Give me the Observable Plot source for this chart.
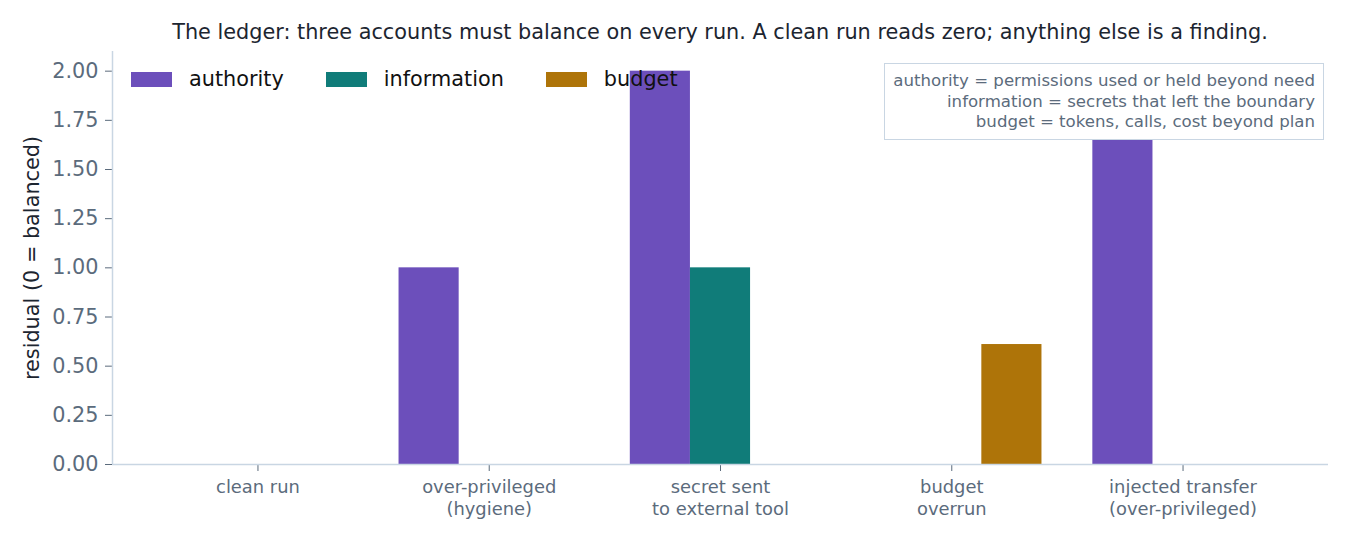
<!DOCTYPE html>
<html>
<head>
<meta charset="utf-8">
<script src="https://cdn.jsdelivr.net/npm/d3@7"></script>
<script src="https://cdn.jsdelivr.net/npm/@observablehq/plot@0.6"></script>
<style>
  html, body { margin: 0; padding: 0; background: white; }
  #wrap { position: relative; width: 1350px; height: 540px; font-family: "DejaVu Sans", sans-serif; }
  #title { height: 40px; box-sizing: border-box; padding: 20px 22px 0 112px; text-align: center;
           font-size: 20.8px; line-height: 24px; color: #1c2530; white-space: nowrap; }
  #legend { position: absolute; left: 131px; top: 68.5px; height: 21px; display: flex; align-items: center;
            font-size: 20.8px; color: #111; white-space: nowrap; }
  #legend .item { display: flex; align-items: center; margin-right: 42px; }
  #legend .sw { width: 41px; height: 15px; margin-right: 17px; }
  #note { position: absolute; right: 26px; top: 63px; background: white; border: 1.5px solid #c9d6e3;
          padding: 7px 8px 6px 8px; text-align: right; font-size: 16.6px; line-height: 20.5px; color: #5b6b7c;
          white-space: nowrap; }
</style>
</head>
<body>
<div id="wrap">
  <div id="title"></div>
  <div id="chart"></div>
  <div id="legend"></div>
  <div id="note"></div>
</div>
<script>
const titleText = "The ledger: three accounts must balance on every run. A clean run reads zero; anything else is a finding.";
const categories = ["clean run", "over-privileged\n(hygiene)", "secret sent\nto external tool", "budget\noverrun", "injected transfer\n(over-privileged)"];
const seriesNames = ["authority", "information", "budget"];
const seriesColors = ["#6c4fbb", "#107c79", "#ae7409"];
const authority = [0, 1, 2, 0, 2];
const information = [0, 0, 1, 0, 0];
const budget = [0, 0, 0, 0.61, 0];
const yTicks = [0, 0.25, 0.5, 0.75, 1.0, 1.25, 1.5, 1.75, 2.0];
const noteLines = [
  "authority = permissions used or held beyond need",
  "information = secrets that left the boundary",
  "budget = tokens, calls, cost beyond plan"
];
const yLabel = "residual (0 = balanced)";

const barWidth = 0.26;
const seriesValues = [authority, information, budget];
const rows = [];
seriesNames.forEach((s, k) => {
  seriesValues[k].forEach((v, i) => {
    rows.push({series: s, i, offset: (k - 1) * barWidth, value: v});
  });
});
const lo = -barWidth * 1.5, hi = categories.length - 1 + barWidth * 1.5;
const pad = (hi - lo) * 0.05;
const xDomain = [lo - pad, hi + pad];

const slate = "#5b6b7c";
const spine = "#c9d6e3";

const chart = Plot.plot({
  width: 1350,
  height: 500,
  marginLeft: 112,
  marginRight: 22,
  marginTop: 11,
  marginBottom: 76,
  style: {fontFamily: "DejaVu Sans, sans-serif", background: "white"},
  x: {domain: xDomain, axis: null},
  y: {domain: [0, 2.1], axis: null},
  color: {domain: seriesNames, range: seriesColors},
  marks: [
    Plot.rectY(rows, {
      x1: d => d.i + d.offset - barWidth / 2,
      x2: d => d.i + d.offset + barWidth / 2,
      y1: 0,
      y2: "value",
      fill: "series"
    }),
    Plot.axisY({ticks: yTicks, tickFormat: d3.format(".2f"), tickSize: 7, tickPadding: 7,
                fontSize: 20.8, color: slate, label: null}),
    Plot.axisX({ticks: categories.map((c, i) => i), tickFormat: i => categories[i], tickSize: 7,
                tickPadding: 6.5, fontSize: 17.9, lineHeight: 1.2, color: slate, label: null}),
    Plot.ruleX([xDomain[0]], {stroke: spine, strokeWidth: 1.5}),
    Plot.ruleY([0], {stroke: spine, strokeWidth: 1.5}),
    Plot.text([yLabel], {frameAnchor: "left", textAnchor: "middle", rotate: -90, dx: -80,
                         fontSize: 20.8, fill: "#1c2530"})
  ]
});
document.getElementById("chart").appendChild(chart);
document.getElementById("title").textContent = titleText;

const legend = document.getElementById("legend");
seriesNames.forEach((s, k) => {
  const item = document.createElement("div");
  item.className = "item";
  const sw = document.createElement("div");
  sw.className = "sw";
  sw.style.background = seriesColors[k];
  const t = document.createElement("span");
  t.textContent = s;
  item.appendChild(sw);
  item.appendChild(t);
  legend.appendChild(item);
});
const note = document.getElementById("note");
noteLines.forEach(l => {
  const d = document.createElement("div");
  d.textContent = l;
  note.appendChild(d);
});
</script>
</body>
</html>
